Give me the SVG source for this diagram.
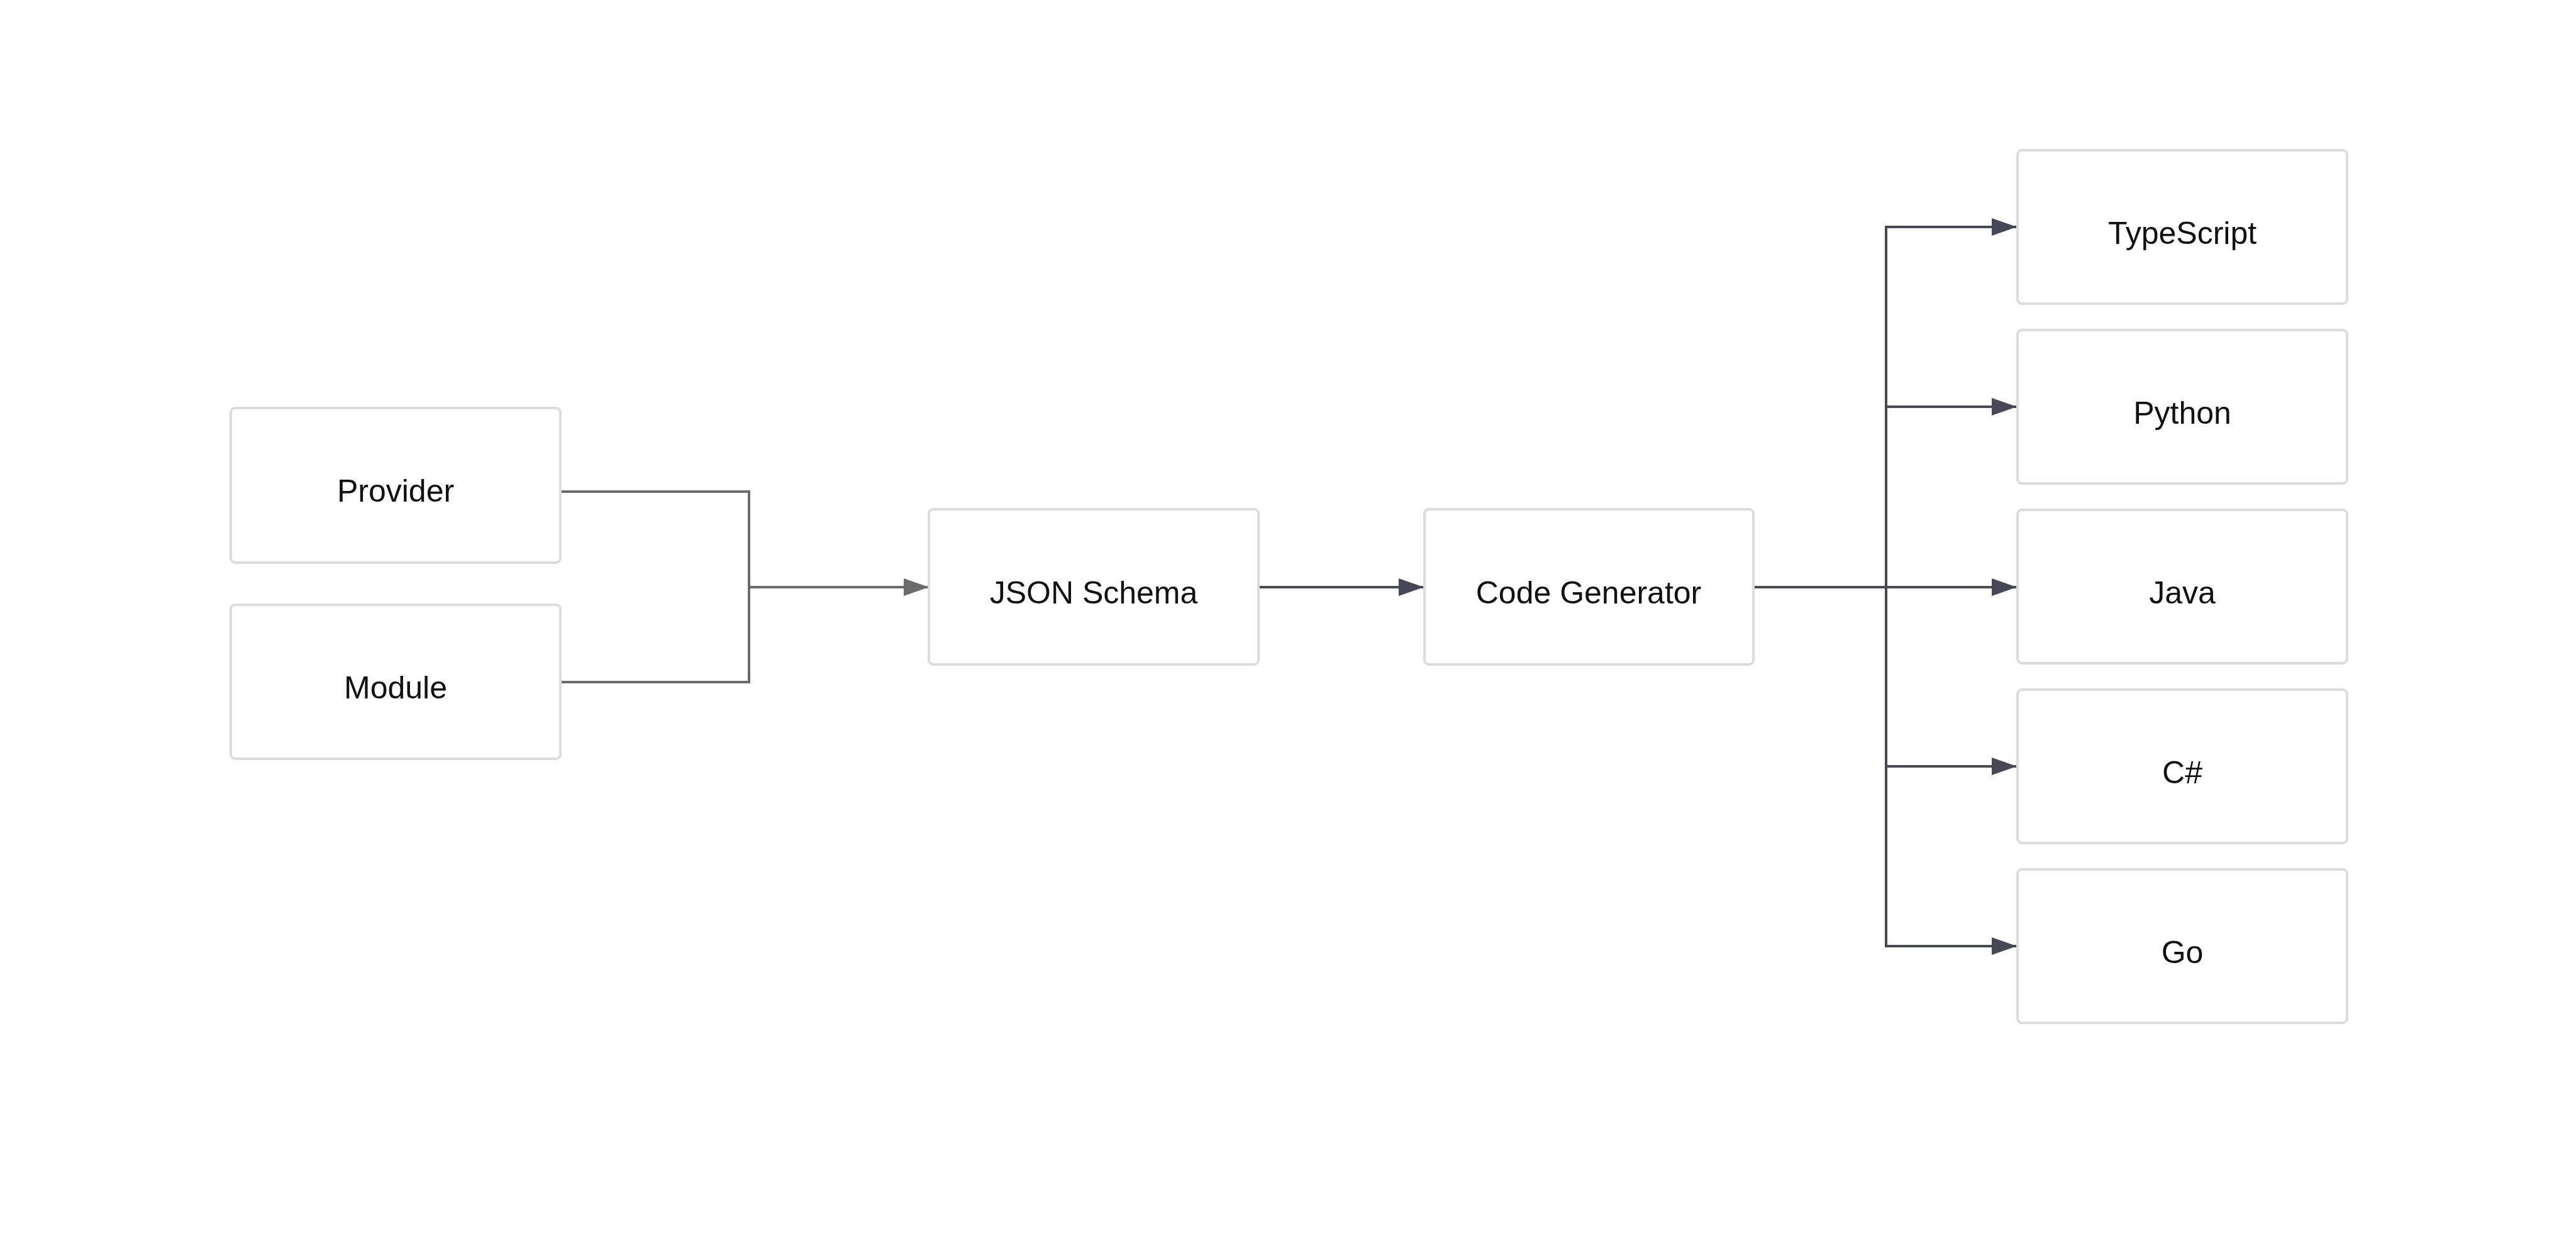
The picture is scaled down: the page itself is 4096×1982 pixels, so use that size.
<svg xmlns="http://www.w3.org/2000/svg" width="4096" height="1982" viewBox="0 0 4096 1982">
  <defs>
    <marker id="arrGray" markerUnits="userSpaceOnUse" markerWidth="40" markerHeight="28" refX="40" refY="14" orient="auto">
      <path d="M0,0 L40,14 L0,28 z" fill="#6b6b6e"/>
    </marker>
    <marker id="arrDark" markerUnits="userSpaceOnUse" markerWidth="40" markerHeight="28" refX="40" refY="14" orient="auto">
      <path d="M0,0 L40,14 L0,28 z" fill="#464855"/>
    </marker>
  </defs>
  <style>
    .box { fill: #ffffff; stroke: #dcdcdc; stroke-width: 4; }
    .lbl { font-family: "Liberation Sans", Arial, sans-serif; font-size: 50px; fill: #111111; text-anchor: middle; }
    .eg { fill: none; stroke: #6b6b6e; stroke-width: 4; }
    .ed { fill: none; stroke: #464855; stroke-width: 4; }
  </style>
  <rect x="0" y="0" width="4096" height="1982" fill="#ffffff"/>
  <g id="connectors">
    <path class="eg" d="M891,782 H1191 V934"/>
    <path class="eg" d="M891,1085 H1191 V934"/>
    <path class="eg" d="M1191,934 H1477" marker-end="url(#arrGray)"/>
    <path class="ed" d="M2001,934 H2264" marker-end="url(#arrDark)"/>
    <path class="ed" d="M2788,934 H2999 V361 H3207" marker-end="url(#arrDark)"/>
    <path class="ed" d="M2788,934 H2999 V647 H3207" marker-end="url(#arrDark)"/>
    <path class="ed" d="M2788,934 H3207" marker-end="url(#arrDark)"/>
    <path class="ed" d="M2788,934 H2999 V1219 H3207" marker-end="url(#arrDark)"/>
    <path class="ed" d="M2788,934 H2999 V1505 H3207" marker-end="url(#arrDark)"/>
  </g>
  <g id="node-provider">
    <rect class="box" x="367" y="649" width="524" height="246" rx="7"/>
    <text class="lbl" x="629" y="798">Provider</text>
  </g>
  <g id="node-module">
    <rect class="box" x="367" y="962" width="524" height="245" rx="7"/>
    <text class="lbl" x="629" y="1111">Module</text>
  </g>
  <g id="node-json-schema">
    <rect class="box" x="1477" y="810" width="524" height="247" rx="7"/>
    <text class="lbl" x="1739" y="960">JSON Schema</text>
  </g>
  <g id="node-code-generator">
    <rect class="box" x="2265" y="810" width="523" height="247" rx="7"/>
    <text class="lbl" x="2526" y="960">Code Generator</text>
  </g>
  <g id="node-typescript">
    <rect class="box" x="3208" y="239" width="524" height="244" rx="7"/>
    <text class="lbl" x="3470" y="388">TypeScript</text>
  </g>
  <g id="node-python">
    <rect class="box" x="3208" y="525" width="524" height="244" rx="7"/>
    <text class="lbl" x="3470" y="674">Python</text>
  </g>
  <g id="node-java">
    <rect class="box" x="3208" y="811" width="524" height="244" rx="7"/>
    <text class="lbl" x="3470" y="960">Java</text>
  </g>
  <g id="node-csharp">
    <rect class="box" x="3208" y="1097" width="524" height="244" rx="7"/>
    <text class="lbl" x="3470" y="1246">C#</text>
  </g>
  <g id="node-go">
    <rect class="box" x="3208" y="1383" width="524" height="244" rx="7"/>
    <text class="lbl" x="3470" y="1532">Go</text>
  </g>
</svg>
